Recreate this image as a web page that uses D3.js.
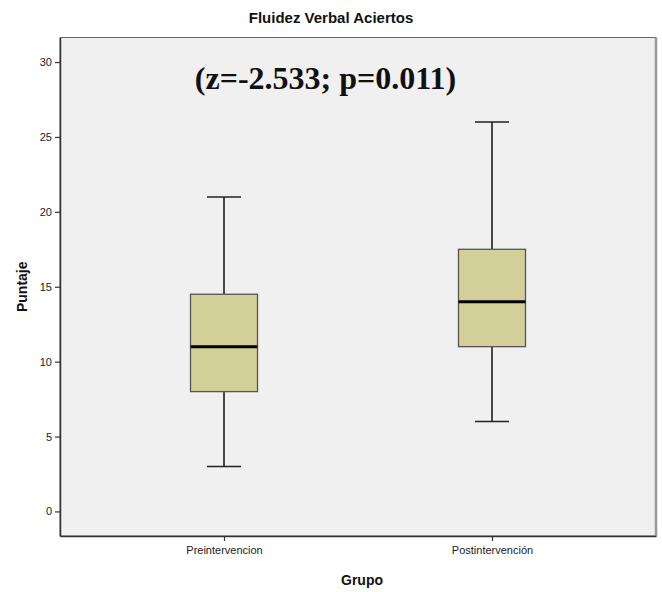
<!DOCTYPE html>
<html>
<head>
<meta charset="utf-8">
<script src="https://cdn.jsdelivr.net/npm/d3@7"></script>
<style>
  body { margin: 0; background: #fff; }
  text { font-family: Arial, "Liberation Sans", sans-serif; }
</style>
</head>
<body>
<script>
// data
var groups = ['Preintervencion', 'Postintervención'];
var mins = [3, 6];
var q1s = [8, 11];
var medians = [11, 14];
var q3s = [14.5, 17.5];
var maxs = [21, 26];
var yTicks = [0, 5, 10, 15, 20, 25, 30];
var note = '(z=-2.533; p=0.011)';

var totalWidth = 662, totalHeight = 592;
var margin = { top: 37.5, right: 6, bottom: 56, left: 60 };
var graphWidth = totalWidth - margin.left - margin.right;
var graphHeight = totalHeight - margin.top - margin.bottom;

var svg = d3.select('body')
  .append('svg')
  .attr('width', totalWidth)
  .attr('height', totalHeight);

var boxes = groups.map(function(g, i) {
  return { group: g, min: mins[i], q1: q1s[i], median: medians[i], q3: q3s[i], max: maxs[i] };
});

var xScale = d3.scalePoint()
  .domain(groups)
  .range([0, graphWidth])
  .padding(0.612);

var yScale = d3.scaleLinear()
  .domain([-1.64, 31.64])
  .range([graphHeight, 0]);

var mainGroup = svg.append('g')
  .attr('transform', 'translate(' + margin.left + ',' + margin.top + ')');

// plot background
mainGroup.append('rect')
  .attr('width', graphWidth)
  .attr('height', graphHeight)
  .attr('fill', '#f0f0f0')
  .attr('stroke', '#666')
  .attr('stroke-width', 1);
mainGroup.append('line')
  .attr('x1', graphWidth).attr('x2', graphWidth)
  .attr('y1', 0).attr('y2', graphHeight)
  .attr('stroke', '#999').attr('stroke-width', 2.5);

var boxWidth = 67, capWidth = 34;

var boxGroup = mainGroup.selectAll('g.box')
  .data(boxes)
  .enter()
  .append('g')
  .attr('class', 'box')
  .attr('transform', function(d) { return 'translate(' + xScale(d.group) + ',0)'; });

// whiskers
boxGroup.append('line')
  .attr('y1', function(d) { return yScale(d.max); })
  .attr('y2', function(d) { return yScale(d.q3); })
  .attr('stroke', '#111').attr('stroke-width', 1.5);
boxGroup.append('line')
  .attr('y1', function(d) { return yScale(d.q1); })
  .attr('y2', function(d) { return yScale(d.min); })
  .attr('stroke', '#111').attr('stroke-width', 1.5);
boxGroup.append('line')
  .attr('x1', -capWidth / 2).attr('x2', capWidth / 2)
  .attr('y1', function(d) { return yScale(d.max); })
  .attr('y2', function(d) { return yScale(d.max); })
  .attr('stroke', '#222').attr('stroke-width', 1.5);
boxGroup.append('line')
  .attr('x1', -capWidth / 2).attr('x2', capWidth / 2)
  .attr('y1', function(d) { return yScale(d.min); })
  .attr('y2', function(d) { return yScale(d.min); })
  .attr('stroke', '#222').attr('stroke-width', 1.5);

// box
boxGroup.append('rect')
  .attr('x', -boxWidth / 2)
  .attr('width', boxWidth)
  .attr('y', function(d) { return yScale(d.q3); })
  .attr('height', function(d) { return yScale(d.q1) - yScale(d.q3); })
  .attr('fill', '#d3cf98')
  .attr('stroke', '#555')
  .attr('stroke-width', 1.3);

// median
boxGroup.append('line')
  .attr('x1', -boxWidth / 2).attr('x2', boxWidth / 2)
  .attr('y1', function(d) { return yScale(d.median); })
  .attr('y2', function(d) { return yScale(d.median); })
  .attr('stroke', '#000').attr('stroke-width', 3);

// left axis
var leftAxisGroup = mainGroup.append('g')
  .call(d3.axisLeft(yScale).tickValues(yTicks).tickSize(5).tickSizeOuter(0));
styleAxisNodes(leftAxisGroup);

// bottom axis
var bottomAxisGroup = mainGroup.append('g')
  .attr('transform', 'translate(0,' + graphHeight + ')')
  .call(d3.axisBottom(xScale).tickSize(5).tickSizeOuter(0));
styleAxisNodes(bottomAxisGroup);
bottomAxisGroup.selectAll('text').attr('dy', '0.95em').attr('y', 8);

// titles
svg.append('text')
  .attr('x', totalWidth / 2)
  .attr('y', 23)
  .attr('text-anchor', 'middle')
  .style('font-size', '15px')
  .style('font-weight', 'bold')
  .attr('fill', '#111')
  .text('Fluidez Verbal Aciertos');

svg.append('text')
  .attr('x', 325.5)
  .attr('y', 88.5)
  .attr('text-anchor', 'middle')
  .style('font-family', '"Liberation Serif", "Times New Roman", serif')
  .style('font-size', '32px')
  .style('font-weight', 'bold')
  .attr('fill', '#111')
  .text(note);

svg.append('text')
  .attr('x', margin.left + graphWidth / 2 + 4)
  .attr('y', 585)
  .attr('text-anchor', 'middle')
  .style('font-size', '14px')
  .style('font-weight', 'bold')
  .attr('fill', '#111')
  .text('Grupo');

svg.append('text')
  .attr('transform', 'translate(27,' + (margin.top + graphHeight / 2) + ') rotate(-90)')
  .attr('text-anchor', 'middle')
  .style('font-size', '14px')
  .style('font-weight', 'bold')
  .attr('fill', '#111')
  .text('Puntaje');

function styleAxisNodes(axisNodes) {
  axisNodes.selectAll('.domain')
    .attr('stroke', '#333')
    .attr('stroke-width', 1.5);
  axisNodes.selectAll('.tick line')
    .attr('stroke', '#333')
    .attr('stroke-width', 1.2);
  axisNodes.selectAll('text')
    .style('font-family', 'Arial, "Liberation Sans", sans-serif')
    .style('font-size', '11px')
    .attr('fill', '#222');
}
</script>
</body>
</html>
